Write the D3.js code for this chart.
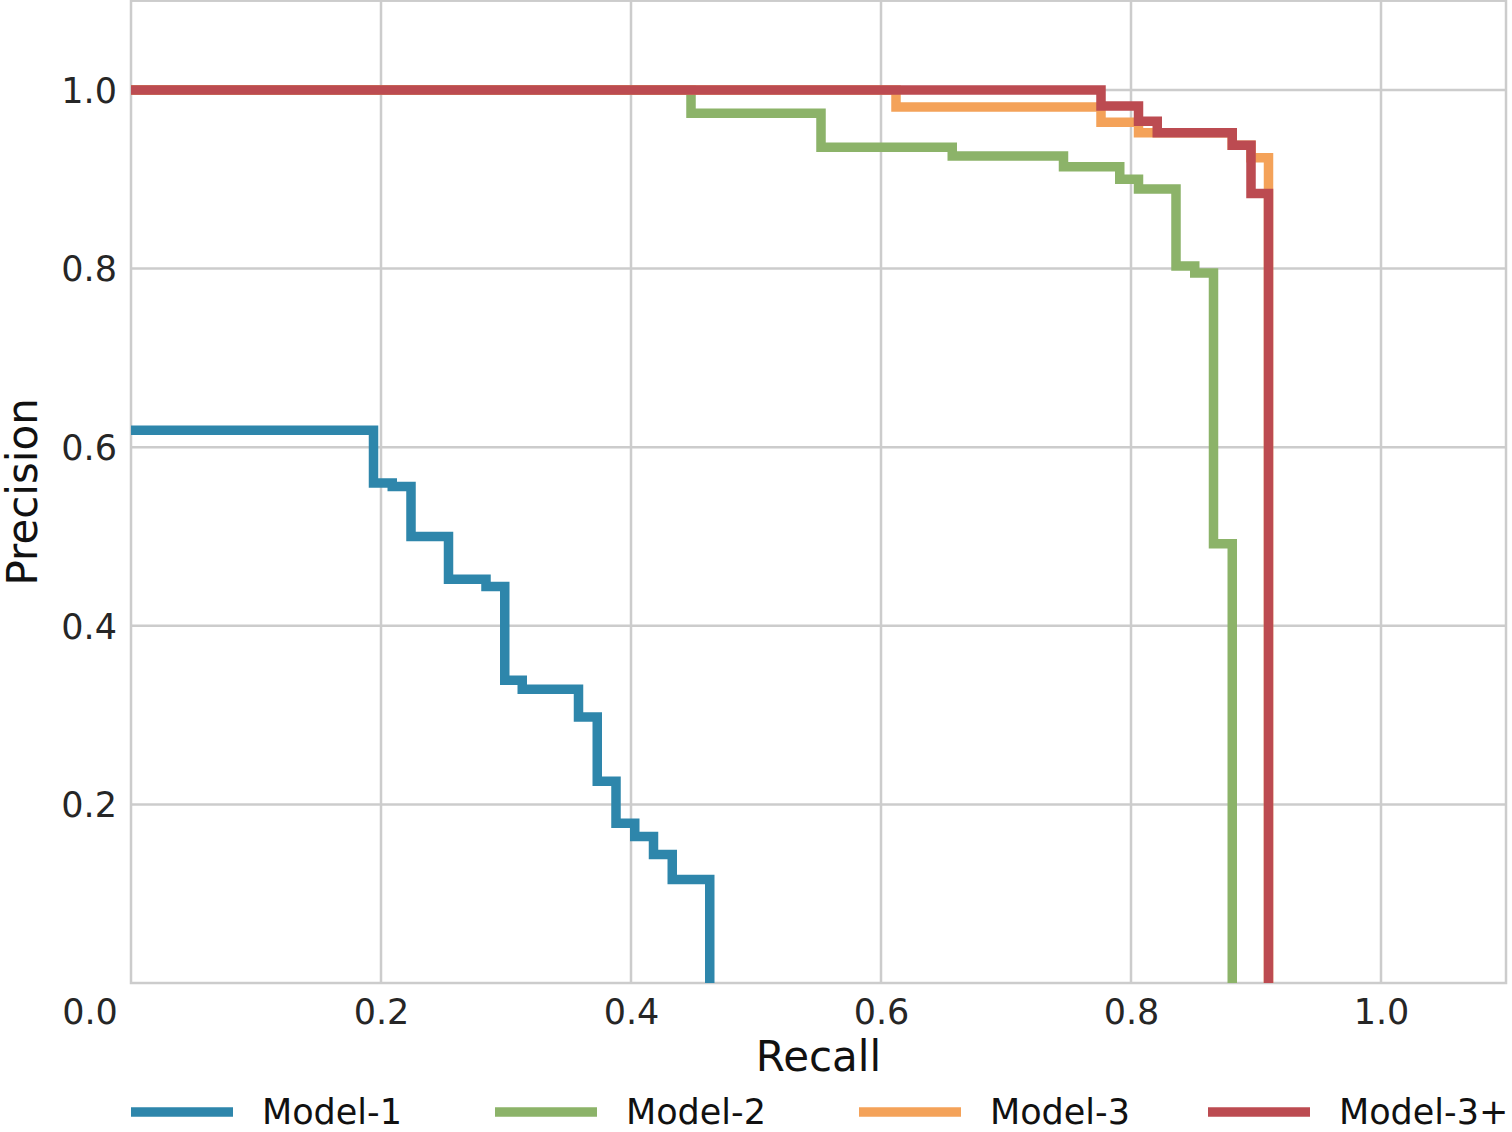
<!DOCTYPE html>
<html>
<head>
<meta charset="utf-8">
<script src="https://cdn.jsdelivr.net/npm/d3@7"></script>
<style>
  html, body { margin: 0; padding: 0; background: #ffffff; }
  svg { display: block; font-family: "DejaVu Sans", sans-serif; }
</style>
</head>
<body>
<svg id="chart" width="1512" height="1132"></svg>
<script>
// ---- data (step PR curves: precision level i holds until recall knot i, then drops) ----
const seriesNames = ["Model-1", "Model-2", "Model-3", "Model-3+"];
const seriesColors = ["#2E86AB", "#8CB369", "#F4A259", "#BC4B51"];

const model1Recall    = [0.194, 0.209, 0.224, 0.254, 0.284, 0.299, 0.313, 0.358, 0.373, 0.388, 0.403, 0.418, 0.433, 0.463];
const model1Precision = [0.619, 0.560, 0.556, 0.500, 0.452, 0.444, 0.339, 0.329, 0.298, 0.226, 0.179, 0.164, 0.144, 0.116];

const model2Recall    = [0.448, 0.552, 0.657, 0.746, 0.791, 0.806, 0.836, 0.851, 0.866, 0.881];
const model2Precision = [1.000, 0.974, 0.936, 0.926, 0.914, 0.900, 0.889, 0.803, 0.795, 0.492];

const model3Recall    = [0.612, 0.776, 0.806, 0.881, 0.896, 0.910];
const model3Precision = [1.000, 0.981, 0.964, 0.952, 0.938, 0.924];

const model3pRecall    = [0.776, 0.806, 0.821, 0.881, 0.896, 0.910];
const model3pPrecision = [1.000, 0.982, 0.965, 0.952, 0.938, 0.884];

const xTicks = [0.2, 0.4, 0.6, 0.8, 1.0];
const yTicks = [0.2, 0.4, 0.6, 0.8, 1.0];
const cornerLabel = "0.0";
const xLabel = "Recall";
const yLabel = "Precision";

// ---- layout ----
const svg = d3.select("#chart");
const plotLeft = 131, plotRight = 1506, plotTop = 0.7, plotBottom = 983;
const x = d3.scaleLinear().domain([0, 1.1]).range([plotLeft, plotRight]);
const y = d3.scaleLinear().domain([0, 1.1]).range([plotBottom, plotTop]);

const gridColor = "#cccccc";
const tickColor = "#262626";

// grid
const grid = svg.append("g");
grid.selectAll("line.vx").data(xTicks).join("line")
  .attr("class", "vx")
  .attr("x1", d => x(d)).attr("x2", d => x(d))
  .attr("y1", y(1.1)).attr("y2", y(0))
  .attr("stroke", gridColor).attr("stroke-width", 2.5);
grid.selectAll("line.hy").data(yTicks).join("line")
  .attr("class", "hy")
  .attr("x1", x(0)).attr("x2", x(1.1))
  .attr("y1", d => y(d)).attr("y2", d => y(d))
  .attr("stroke", gridColor).attr("stroke-width", 2.5);
// frame
svg.append("rect")
  .attr("x", x(0)).attr("y", y(1.1))
  .attr("width", x(1.1) - x(0)).attr("height", y(0) - y(1.1))
  .attr("fill", "none").attr("stroke", gridColor).attr("stroke-width", 2.5);

// step curves
function stepPoints(recall, precision) {
  const pts = [[0, precision[0]]];
  for (let i = 0; i < recall.length; i++) {
    const next = i + 1 < precision.length ? precision[i + 1] : 0;
    pts.push([recall[i], next]);
  }
  return pts;
}
const curves = [
  stepPoints(model1Recall, model1Precision),
  stepPoints(model2Recall, model2Precision),
  stepPoints(model3Recall, model3Precision),
  stepPoints(model3pRecall, model3pPrecision)
];
const line = d3.line().x(d => x(d[0])).y(d => y(d[1])).curve(d3.curveStepAfter);
svg.append("g").selectAll("path").data(curves).join("path")
  .attr("d", line)
  .attr("fill", "none")
  .attr("stroke", (d, i) => seriesColors[i])
  .attr("stroke-width", 9.5)
  .attr("stroke-linejoin", "miter")
  .attr("stroke-linecap", "butt");

// axes tick labels
const xAxis = d3.axisBottom(x).tickValues(xTicks).tickFormat(d3.format(".1f")).tickSize(0).tickPadding(0);
const gx = svg.append("g").attr("transform", `translate(0,${plotBottom})`).call(xAxis);
gx.select(".domain").remove();
gx.selectAll("text").attr("y", 29).attr("dy", "0.35em")
  .attr("font-size", 35).attr("fill", tickColor).attr("font-family", "DejaVu Sans");

const yAxis = d3.axisLeft(y).tickValues(yTicks).tickFormat(d3.format(".1f")).tickSize(0).tickPadding(0);
const gy = svg.append("g").attr("transform", `translate(${plotLeft},0)`).call(yAxis);
gy.select(".domain").remove();
gy.selectAll("text").attr("x", -14).attr("dy", "0.35em")
  .attr("font-size", 35).attr("fill", tickColor).attr("font-family", "DejaVu Sans");

svg.append("text")
  .attr("x", 90).attr("y", y(0) + 29).attr("dy", "0.35em")
  .attr("text-anchor", "middle").attr("font-size", 35).attr("fill", tickColor)
  .text(cornerLabel);

// axis labels
svg.append("text")
  .attr("x", (plotLeft + plotRight) / 2).attr("y", 1056).attr("dy", "0.35em")
  .attr("text-anchor", "middle").attr("font-size", 42).attr("fill", "#111")
  .text(xLabel);
svg.append("text")
  .attr("transform", `translate(22,${(plotBottom + plotTop) / 2}) rotate(-90)`)
  .attr("dy", "0.35em")
  .attr("text-anchor", "middle").attr("font-size", 42).attr("fill", "#111")
  .text(yLabel);

// legend
const legendX = [131, 495, 859, 1208];
const legend = svg.append("g").selectAll("g").data(seriesNames).join("g")
  .attr("transform", (d, i) => `translate(${legendX[i]},1112)`);
legend.append("line")
  .attr("x1", 0).attr("x2", 102).attr("y1", 0).attr("y2", 0)
  .attr("stroke", (d, i) => seriesColors[i]).attr("stroke-width", 9.5);
legend.append("text")
  .attr("x", 131).attr("y", 0).attr("dy", "0.35em")
  .attr("font-size", 35).attr("fill", "#111")
  .text(d => d);
</script>
</body>
</html>
